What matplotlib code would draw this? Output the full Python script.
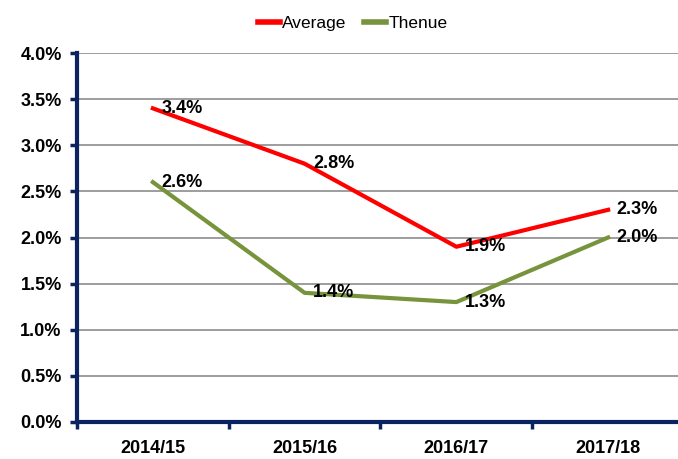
import matplotlib
matplotlib.use("Agg")
import matplotlib.pyplot as plt
from matplotlib.ticker import FuncFormatter

categories = ["2014/15", "2015/16", "2016/17", "2017/18"]
average = [3.4, 2.8, 1.9, 2.3]
thenue = [2.6, 1.4, 1.3, 2.0]
yticks = [0.0, 0.5, 1.0, 1.5, 2.0, 2.5, 3.0, 3.5, 4.0]

plt.rcParams['font.family'] = ['Liberation Sans Narrow', 'Liberation Sans', 'DejaVu Sans']
navy = "#0b2360"

fig = plt.figure(figsize=(6.78, 4.59), dpi=100)
ax = fig.add_axes([77/678, 37/459, 1 - 77/678, (422-53)/459])

x = list(range(len(categories)))
ax.plot(x, average, color="#ff0000", lw=3, label="Average", zorder=3)
ax.plot(x, thenue, color="#77933c", lw=3, label="Thenue", zorder=3)
for xi, v in zip(x, average):
    ax.annotate(f"{v:.1f}%", (xi, v), xytext=(6, 0), textcoords="offset points",
                ha="left", va="center", fontsize=13, fontweight="bold", zorder=4)
for xi, v in zip(x, thenue):
    ax.annotate(f"{v:.1f}%", (xi, v), xytext=(6, 0), textcoords="offset points",
                ha="left", va="center", fontsize=13, fontweight="bold", zorder=4)

ax.set_ylim(0, 4.0)
ax.set_xlim(-0.5, 3.5 - 6/152)
ax.set_yticks(yticks)
ax.yaxis.set_major_formatter(FuncFormatter(lambda v, p: f"{v:.1f}%"))
ax.set_xticks(x)
ax.set_xticklabels(categories)
ax.set_xticks([-0.5, 0.5, 1.5, 2.5], minor=True)
ax.tick_params(axis="x", which="major", length=0, pad=13, labelsize=13)
ax.tick_params(axis="x", which="minor", length=5, width=2.5, color=navy, direction="out")
ax.tick_params(axis="y", length=5, width=2.5, color=navy, direction="out", labelsize=13, pad=6)
for lab in ax.get_xticklabels() + ax.get_yticklabels():
    lab.set_fontweight("bold")

ax.grid(axis="y", color="#8c8c8c", lw=1.2)
ax.set_axisbelow(True)
for s in ["top", "right"]:
    ax.spines[s].set_visible(False)
ax.spines["left"].set_color(navy)
ax.spines["left"].set_linewidth(3)
ax.spines["bottom"].set_color(navy)
ax.spines["bottom"].set_linewidth(3)
ax.spines["left"].set_zorder(5)
ax.spines["bottom"].set_zorder(5)

fig.legend(loc="upper center", bbox_to_anchor=(0.52, 1.0), ncol=2, frameon=False,
           fontsize=12.5, handlelength=1.3, handletextpad=0.1, columnspacing=1.0)
for line in fig.legends[0].get_lines():
    line.set_linewidth(4)

fig.savefig("out.png", dpi=100)
